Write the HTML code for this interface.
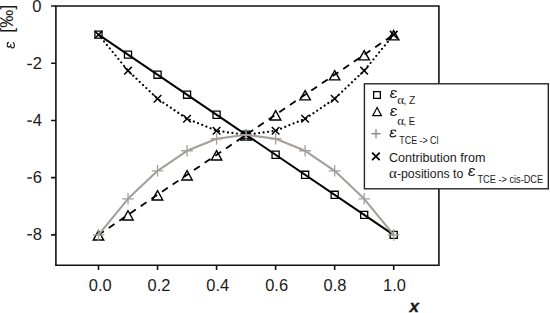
<!DOCTYPE html>
<html><head><meta charset="utf-8"><style>
html,body{margin:0;padding:0;background:#fff;width:550px;height:313px;overflow:hidden}
svg{display:block}
text{font-family:"Liberation Sans",sans-serif;fill:#1a1a1a}
.tk{font-size:16.6px}
.tkx{font-size:17.4px}
.xl{font-size:17px;font-weight:bold;font-style:italic;stroke:#1a1a1a;stroke-width:0.35px}
.yl{font-size:19px}
.gr{font-family:"Liberation Serif",serif}
.eps{font-family:"Liberation Serif",serif;font-size:18px}
.sub{font-size:11px}
.lt{font-size:13.5px}
.al{font-family:"Liberation Serif",serif;font-size:13px}
.al2{font-family:"Liberation Serif",serif;font-size:15px}
</style></head><body>
<svg width="550" height="313" viewBox="0 0 550 313">
<defs><g id="eps"><path d="M6.2,1.6 C5.6,0.7 4.7,0.6 3.8,0.6 C2.4,0.6 1.6,1.3 1.6,2.3 C1.6,3.3 2.5,3.95 3.7,3.95 H4.4 M3.7,3.95 C1.9,3.95 0.7,4.8 0.7,5.9 C0.7,7.0 1.8,7.55 3.4,7.55 C4.6,7.55 5.6,7.2 6.4,6.4" fill="none" stroke="#1a1a1a" stroke-width="1.05"/><path d="M1.2,5 C0.9,5.6 0.9,6.4 1.5,6.9 M1.9,1.6 C1.7,2.2 1.8,2.8 2.3,3.3" fill="none" stroke="#1a1a1a" stroke-width="0.8"/><circle cx="6.1" cy="1.55" r="0.8" fill="#1a1a1a"/><circle cx="6.2" cy="6.6" r="0.6" fill="#1a1a1a"/></g></defs>
<path d="M55.9 6.05H438.9V265.2H55.9Z" fill="none" stroke="#111" stroke-width="1.6" stroke-linejoin="miter"/>
<path d="M51.1 6.05H55.9M51.1 63.25H55.9M51.1 120.45H55.9M51.1 177.65H55.9M51.1 234.85H55.9M98.50 265.2V270.09999999999997M157.54 265.2V270.09999999999997M216.58 265.2V270.09999999999997M275.62 265.2V270.09999999999997M334.66 265.2V270.09999999999997M393.70 265.2V270.09999999999997" stroke="#111" stroke-width="1.6" fill="none"/>
<text x="41.6" y="11.95" text-anchor="end" class="tk">0</text>
<text x="41.9" y="69.15" text-anchor="end" class="tk">2</text>
<rect x="27.3" y="63.80" width="4.6" height="1.4" fill="#1a1a1a"/>
<text x="41.9" y="126.05" text-anchor="end" class="tk">4</text>
<rect x="27.3" y="120.40" width="4.6" height="1.4" fill="#1a1a1a"/>
<text x="41.9" y="183.25" text-anchor="end" class="tk">6</text>
<rect x="27.3" y="177.25" width="4.6" height="1.4" fill="#1a1a1a"/>
<text x="41.9" y="240.45" text-anchor="end" class="tk">8</text>
<rect x="27.3" y="234.10" width="4.6" height="1.4" fill="#1a1a1a"/>
<text x="100.30" y="291.45" text-anchor="middle" class="tkx" textLength="22.9" lengthAdjust="spacingAndGlyphs">0.0</text>
<text x="159.04" y="291.45" text-anchor="middle" class="tkx" textLength="22.9" lengthAdjust="spacingAndGlyphs">0.2</text>
<text x="217.68" y="291.45" text-anchor="middle" class="tkx" textLength="22.9" lengthAdjust="spacingAndGlyphs">0.4</text>
<text x="276.62" y="291.45" text-anchor="middle" class="tkx" textLength="22.9" lengthAdjust="spacingAndGlyphs">0.6</text>
<text x="335.06" y="291.45" text-anchor="middle" class="tkx" textLength="22.9" lengthAdjust="spacingAndGlyphs">0.8</text>
<text x="394.50" y="291.45" text-anchor="middle" class="tkx" textLength="22.9" lengthAdjust="spacingAndGlyphs">1.0</text>
<text x="414.3" y="312.3" text-anchor="middle" class="xl">x</text>
<use href="#eps" transform="translate(6.6 48.7) rotate(-90) scale(1 1.03)"/>
<text transform="translate(12.9 32.8) rotate(-90)" class="yl" textLength="28" lengthAdjust="spacingAndGlyphs">[‰]</text>
<path d="M98.50 34.65L128.02 70.69L157.54 98.71L187.06 118.73L216.58 130.75L246.10 134.75L275.62 130.75L305.14 118.73L334.66 98.71L364.18 70.69L393.70 34.65" fill="none" stroke="#000" stroke-width="2.2" stroke-linecap="round" stroke-dasharray="0.001 4.499" stroke-dashoffset="0.2"/>
<path d="M98.50 234.85L393.70 34.65" fill="none" stroke="#000" stroke-width="1.8" stroke-dasharray="7 5.88" stroke-dashoffset="0.55"/>
<path d="M98.50 34.65L393.70 234.85" fill="none" stroke="#000" stroke-width="2.0"/>
<path d="M94.70 30.85l7.60 7.60M102.30 30.85l-7.60 7.60M124.22 66.89l7.60 7.60M131.82 66.89l-7.60 7.60M153.74 94.91l7.60 7.60M161.34 94.91l-7.60 7.60M183.26 114.93l7.60 7.60M190.86 114.93l-7.60 7.60M212.78 126.95l7.60 7.60M220.38 126.95l-7.60 7.60M242.30 130.95l7.60 7.60M249.90 130.95l-7.60 7.60M271.82 126.95l7.60 7.60M279.42 126.95l-7.60 7.60M301.34 114.93l7.60 7.60M308.94 114.93l-7.60 7.60M330.86 94.91l7.60 7.60M338.46 94.91l-7.60 7.60M360.38 66.89l7.60 7.60M367.98 66.89l-7.60 7.60M389.90 30.85l7.60 7.60M397.50 30.85l-7.60 7.60" fill="none" stroke="#000" stroke-width="1.5"/>
<path d="M98.50 230.75L103.70 240.05L93.30 240.05zM128.02 210.73L133.22 220.03L122.82 220.03zM157.54 190.71L162.74 200.01L152.34 200.01zM187.06 170.69L192.26 179.99L181.86 179.99zM216.58 150.67L221.78 159.97L211.38 159.97zM246.10 130.65L251.30 139.95L240.90 139.95zM275.62 110.63L280.82 119.93L270.42 119.93zM305.14 90.61L310.34 99.91L299.94 99.91zM334.66 70.59L339.86 79.89L329.46 79.89zM364.18 50.57L369.38 59.87L358.98 59.87zM393.70 30.55L398.90 39.85L388.50 39.85z" fill="none" stroke="#000" stroke-width="1.4"/>
<path d="M94.95 31.10h7.10v7.10h-7.10zM124.47 51.12h7.10v7.10h-7.10zM153.99 71.14h7.10v7.10h-7.10zM183.51 91.16h7.10v7.10h-7.10zM213.03 111.18h7.10v7.10h-7.10zM242.55 131.20h7.10v7.10h-7.10zM272.07 151.22h7.10v7.10h-7.10zM301.59 171.24h7.10v7.10h-7.10zM331.11 191.26h7.10v7.10h-7.10zM360.63 211.28h7.10v7.10h-7.10zM390.15 231.30h7.10v7.10h-7.10z" fill="none" stroke="#000" stroke-width="1.3"/>
<path d="M98.50 234.85L128.02 198.81L157.54 170.79L187.06 150.77L216.58 138.75L246.10 134.75L275.62 138.75L305.14 150.77L334.66 170.79L364.18 198.81L393.70 234.85" stroke-linejoin="round" fill="none" stroke="#a49f9a" stroke-width="2.1"/>
<path d="M92.70 234.85h11.60M98.50 229.05v11.60M122.22 198.81h11.60M128.02 193.01v11.60M151.74 170.79h11.60M157.54 164.99v11.60M181.26 150.77h11.60M187.06 144.97v11.60M210.78 138.75h11.60M216.58 132.95v11.60M240.30 134.75h11.60M246.10 128.95v11.60M269.82 138.75h11.60M275.62 132.95v11.60M299.34 150.77h11.60M305.14 144.97v11.60M328.86 170.79h11.60M334.66 164.99v11.60M358.38 198.81h11.60M364.18 193.01v11.60M387.90 234.85h11.60M393.70 229.05v11.60" fill="none" stroke="#a49f9a" stroke-width="1.3"/>
<rect x="364.4" y="83.8" width="183.9" height="105" fill="#fff" stroke="#262626" stroke-width="1.4"/>
<path d="M373.65 91.65h6.70v6.70h-6.70z" fill="none" stroke="#000" stroke-width="1.3"/>
<path d="M377.10 107.50L381.40 115.70L372.80 115.70z" fill="none" stroke="#000" stroke-width="1.2"/>
<path d="M371.50 133.80h9.00M376.00 129.30v9.00" fill="none" stroke="#8f8b88" stroke-width="1.4"/>
<path d="M372.10 152.60l7.60 7.60M379.70 152.60l-7.60 7.60" fill="none" stroke="#000" stroke-width="1.7"/>
<use href="#eps" transform="translate(389.9 89.9)"/>
<text x="397.3" y="104.2" class="al">α</text>
<text x="403.4" y="104.2" class="sub" textLength="11.9" lengthAdjust="spacingAndGlyphs">, Z</text>
<use href="#eps" transform="translate(390 107.9)"/>
<text x="397.3" y="124.7" class="al">α</text>
<text x="403.4" y="124.7" class="sub" textLength="11.6" lengthAdjust="spacingAndGlyphs">, E</text>
<use href="#eps" transform="translate(389.4 129.3)"/>
<text x="399.3" y="143.8" class="sub" textLength="39.2" lengthAdjust="spacingAndGlyphs">TCE -&gt; Cl</text>
<text x="389.0" y="161.8" class="lt" textLength="96.4" lengthAdjust="spacingAndGlyphs">Contribution from</text>
<text x="389.0" y="177.9" class="al2">α</text>
<text x="396.9" y="178.0" class="lt" textLength="66.5" lengthAdjust="spacingAndGlyphs">-positions to</text>
<use href="#eps" transform="translate(468.1 167.9)"/>
<text x="477.5" y="183" class="sub" textLength="65.6" lengthAdjust="spacingAndGlyphs">TCE -&gt; cis-DCE</text>
</svg>
</body></html>
